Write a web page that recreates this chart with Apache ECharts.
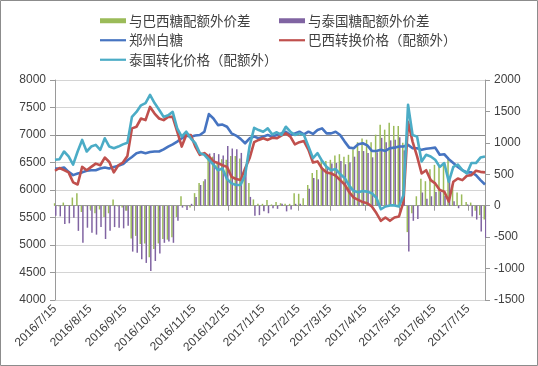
<!DOCTYPE html>
<html><head><meta charset="utf-8">
<script src="https://cdn.jsdelivr.net/npm/echarts@6/dist/echarts.min.js"></script>
<style>html,body{margin:0;padding:0;background:#fff}#c{width:538px;height:366px}</style>
</head><body><div id="c"></div>
<script>
const seriesNames = ['与巴西糖配额外价差', '与泰国糖配额外价差', '郑州白糖', '巴西转换价格（配额外）', '泰国转化价格（配额外）'];
const startDate = '2016/7/15';
const endDate = '2017/7/30';
const xTickLabels = ['2016/7/15','2016/8/15','2016/9/15','2016/10/15','2016/11/15','2016/12/15','2017/1/15','2017/2/15','2017/3/15','2017/4/15','2017/5/15','2017/6/15','2017/7/15'];
const sampleDates = [
'2016/7/15','2016/7/19','2016/7/23','2016/7/27','2016/7/31',
'2016/8/4','2016/8/8','2016/8/12','2016/8/16','2016/8/20','2016/8/24','2016/8/28',
'2016/9/1','2016/9/5','2016/9/9','2016/9/13','2016/9/17','2016/9/21','2016/9/25','2016/9/29',
'2016/10/3','2016/10/7','2016/10/11','2016/10/15','2016/10/19','2016/10/23','2016/10/27','2016/10/31',
'2016/11/4','2016/11/8','2016/11/12','2016/11/16','2016/11/20','2016/11/24','2016/11/28',
'2016/12/2','2016/12/6','2016/12/10','2016/12/14','2016/12/18','2016/12/22','2016/12/26','2016/12/30',
'2017/1/3','2017/1/7','2017/1/11','2017/1/15','2017/1/19','2017/1/23','2017/1/27','2017/1/31',
'2017/2/4','2017/2/8','2017/2/12','2017/2/16','2017/2/20','2017/2/24','2017/2/28',
'2017/3/4','2017/3/8','2017/3/12','2017/3/16','2017/3/20','2017/3/24','2017/3/28',
'2017/4/1','2017/4/5','2017/4/9','2017/4/13','2017/4/17','2017/4/21','2017/4/25','2017/4/29',
'2017/5/3','2017/5/7','2017/5/11','2017/5/15','2017/5/19','2017/5/23','2017/5/27','2017/5/31',
'2017/6/4','2017/6/8','2017/6/12','2017/6/16','2017/6/20','2017/6/24','2017/6/28',
'2017/7/2','2017/7/6','2017/7/10','2017/7/14','2017/7/18','2017/7/22','2017/7/26','2017/7/30'];
const zhengzhou = [6390,6390,6410,6330,6270,6300,6320,6350,6360,6360,6390,6410,6390,6420,6440,6470,6540,6600,6670,6690,
6670,6690,6700,6700,6740,6790,6830,6880,6940,6990,6970,6990,7000,7060,7380,7300,7180,7190,7150,7030,
6990,6930,6850,6940,6970,6940,6970,7000,6970,7000,7030,7060,7000,7030,7060,7010,7060,7020,7090,7120,
7030,7030,7060,7000,6880,6770,6760,6830,6850,6810,6710,6710,6730,6710,6760,6770,6790,6790,6820,6760,
6760,6730,6750,6760,6770,6640,6650,6560,6490,6420,6360,6320,6320,6270,6180,6100];
const brazil = [6350,6400,6360,6320,6140,6100,6420,6360,6420,6480,6450,6590,6510,6320,6450,6500,6620,7120,7150,7300,
7270,7510,7390,7300,7270,7330,7330,7060,6790,7000,7000,6790,6640,6670,6610,6520,6490,6450,6420,6240,
6200,6180,6390,6580,6870,6910,6940,6910,6950,6940,6990,7030,6970,6830,6870,6890,6730,6500,6520,6390,
6320,6300,6260,6180,6100,5960,5860,5820,5780,5760,5700,5580,5440,5500,5440,5500,5520,5790,7240,6880,
6610,6300,6360,6180,6120,6000,5970,5790,6150,6210,6180,6260,6270,6350,6330,6320];
const thai = [6550,6560,6700,6610,6460,6700,6910,6700,6790,6820,6730,6940,6790,6760,6790,6830,6860,7330,7420,7540,
7580,7730,7580,7460,7330,7360,7420,7120,6970,7060,6940,6850,6670,6640,6550,6460,6360,6390,6200,6120,
6090,6090,6270,6800,7130,7090,7060,7120,7010,7050,7000,7150,7060,7000,7030,7000,6790,6580,6670,6530,
6420,6360,6380,6290,6220,6080,5980,5960,5980,5970,5940,5860,5650,5700,5720,5720,5700,5910,7550,7000,
6970,6520,6640,6610,6550,6420,6490,6150,6420,6460,6360,6300,6490,6490,6590,6610];
const spreadBrazil = [40,-10,50,10,130,200,-100,-10,-60,-120,-60,-180,-120,100,-10,-30,-80,-520,-480,-610,
-600,-820,-690,-600,-530,-540,-500,-180,150,-10,-30,200,360,390,770,780,690,740,730,790,
790,750,460,360,100,30,30,90,20,60,40,30,30,200,190,120,330,520,570,730,
710,730,800,820,780,810,900,1010,1070,1050,1010,1130,1290,1210,1320,1270,1270,1000,-420,-120,
150,430,390,580,650,640,680,770,340,210,180,60,50,-80,-150,-220];
const spreadThai = [-160,-170,-290,-280,-190,-400,-590,-350,-430,-460,-340,-530,-400,-340,-350,-360,-320,-730,-750,-850,
-910,-1040,-880,-760,-590,-570,-590,-240,-30,-70,30,140,330,420,830,840,820,800,950,910,
900,840,580,140,-160,-150,-90,-120,-40,-50,30,-90,-60,30,30,10,270,440,420,590,
610,670,680,710,660,690,780,870,870,840,770,850,1080,1010,1040,1050,1090,880,-730,-240,
-210,210,110,150,220,220,160,410,70,-40,0,20,-170,-220,-410,-510];
const leftMin = 4000, leftMax = 8000, leftStep = 500;
const rightMin = -1500, rightMax = 2000, rightStep = 500;

function parse(s){const p=s.split('/').map(Number);return Date.UTC(p[0],p[1]-1,p[2]);}
function fmt(t){const d=new Date(t);return d.getUTCFullYear()+'/'+(d.getUTCMonth()+1)+'/'+d.getUTCDate();}
const categories=[];
for(let t=parse(startDate);t<=parse(endDate);t+=86400000)categories.push(fmt(t));
function toFull(vals){const arr=new Array(categories.length).fill(null);sampleDates.forEach((d,i)=>{arr[categories.indexOf(d)]=vals[i];});return arr;}
const isTick=(idx,val)=>xTickLabels.indexOf(val)>=0;

const numFont='Liberation Sans';
const cjkFont='Noto Sans CJK SC';
const lineIcon='path://M0,0 L26,0 L26,2.2 L0,2.2 Z';
const chart=echarts.init(document.getElementById('c'),null,{renderer:'canvas'});
const splitColors=[];
for(let v=leftMin;v<=leftMax;v+=leftStep)splitColors.push(v===7000?'#8a8a8a':'#d4d4d4');
const lineCommon={type:'line',yAxisIndex:0,connectNulls:true,showSymbol:false,symbol:'none',lineStyle:{width:2.6,join:'round'}};
const legendText={fontFamily:cjkFont,fontSize:13.5,color:'#404040',padding:[0,0,0,-2]};
chart.setOption({
  animation:false,
  color:['#9BBB59','#8064A2','#4674C1','#C0504D','#4BACC6'],
  graphic:[{type:'rect',shape:{x:0.5,y:0.5,width:537,height:365},style:{fill:'none',stroke:'#8c8c8c',lineWidth:1},silent:true}],
  legend:[
    {orient:'vertical',left:95,top:9,itemWidth:26,itemHeight:5,itemGap:6,textStyle:legendText,
     data:[{name:seriesNames[0],icon:'rect'},{name:seriesNames[2],icon:lineIcon},{name:seriesNames[4],icon:lineIcon}]},
    {orient:'vertical',left:274,top:9,itemWidth:26,itemHeight:5,itemGap:6,textStyle:legendText,
     data:[{name:seriesNames[1],icon:'rect'},{name:seriesNames[3],icon:lineIcon}]}
  ],
  grid:{left:55,right:53,top:80,bottom:66,containLabel:false},
  xAxis:{type:'category',data:categories,boundaryGap:false,
    axisLine:{lineStyle:{color:'#9a9a9a'}},
    axisTick:{interval:isTick,length:5,lineStyle:{color:'#9a9a9a'}},
    axisLabel:{interval:isTick,rotate:45,margin:7,fontFamily:numFont,fontSize:12,color:'#404040'},
    splitLine:{show:false}},
  yAxis:[
    {type:'value',min:leftMin,max:leftMax,interval:leftStep,position:'left',
     axisLine:{show:true,lineStyle:{color:'#9a9a9a'}},
     axisTick:{show:true,length:5,lineStyle:{color:'#9a9a9a'}},
     axisLabel:{margin:9,fontFamily:numFont,fontSize:12,color:'#404040',formatter:v=>String(v)},
     splitLine:{show:true,lineStyle:{color:splitColors,width:1}}},
    {type:'value',min:rightMin,max:rightMax,interval:rightStep,position:'right',
     axisLine:{show:true,lineStyle:{color:'#9a9a9a'}},
     axisTick:{show:true,length:5,lineStyle:{color:'#9a9a9a'}},
     axisLabel:{margin:9,fontFamily:numFont,fontSize:12,color:'#404040',formatter:v=>String(v)},
     splitLine:{show:false}}
  ],
  series:[
    {name:seriesNames[0],type:'bar',yAxisIndex:1,barWidth:1.5,barGap:'0%',data:toFull(spreadBrazil)},
    {name:seriesNames[1],type:'bar',yAxisIndex:1,barWidth:1.5,barGap:'0%',data:toFull(spreadThai)},
    Object.assign({name:seriesNames[2],data:toFull(zhengzhou)},lineCommon),
    Object.assign({name:seriesNames[3],data:toFull(brazil)},lineCommon),
    Object.assign({name:seriesNames[4],data:toFull(thai)},lineCommon)
  ]
});
</script></body></html>
